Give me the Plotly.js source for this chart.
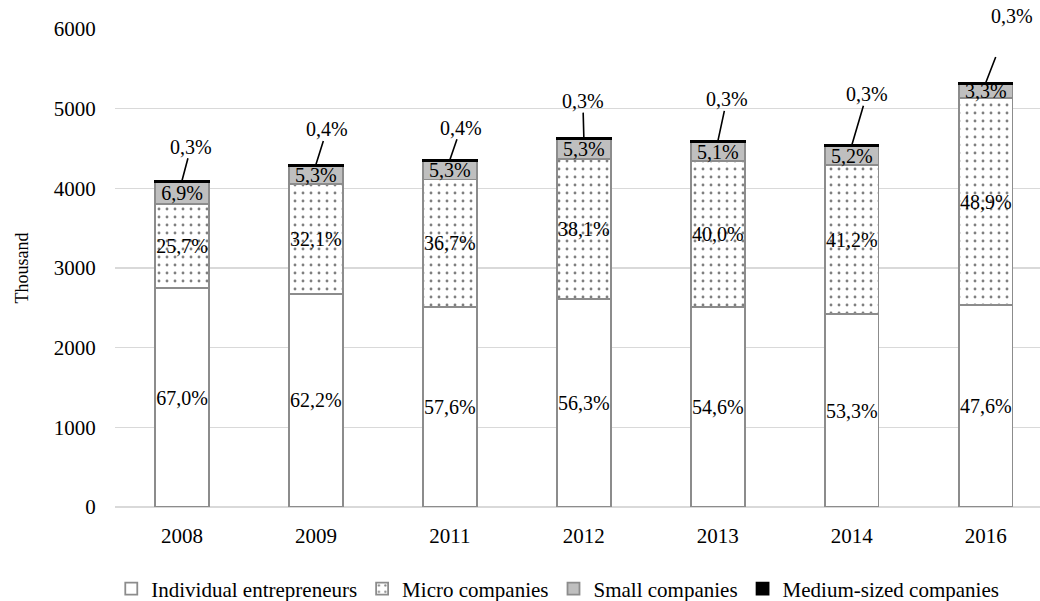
<!DOCTYPE html>
<html>
<head>
<meta charset="utf-8">
<script src="https://cdn.plot.ly/plotly-3.0.1.min.js"></script>
<style>
  html, body { margin: 0; padding: 0; background: #ffffff; }
  #chart { width: 1040px; height: 601px; }
</style>
</head>
<body>
<div id="chart"></div>
<script>
// Enterprises by size class, thousand units, with each class's share of the total
const years = ['2008', '2009', '2011', '2012', '2013', '2014', '2016'];
const totals = [4100, 4300, 4360, 4630, 4590, 4540, 5320];
const pctIndividual = [67.0, 62.2, 57.6, 56.3, 54.6, 53.3, 47.6];
const pctMicro = [25.7, 32.1, 36.7, 38.1, 40.0, 41.2, 48.9];
const pctSmall = [6.9, 5.3, 5.3, 5.3, 5.1, 5.2, 3.3];
const pctMedium = [0.3, 0.4, 0.4, 0.3, 0.3, 0.3, 0.3];
const seriesNames = ['Individual entrepreneurs', 'Micro companies', 'Small companies', 'Medium-sized companies'];
const yTicks = [0, 1000, 2000, 3000, 4000, 5000, 6000];

// Label centre for the medium-sized share, in pixels from the bar top,
// and how far the leader line stops short of its label
const labelShift = [[9, -34], [11, -35], [11, -32], [-1, -37], [9, -42], [15, -51], [26, -67]];
const leaderGap = [0, 0, 0, 0, 0, 0, 32];

const FONT = 'Liberation Serif';
const OUTLINE = '#8c8c8c';

const fmt = p => p.toFixed(1).replace('.', ',') + '%';
const seg = pcts => pcts.map((p, i) => totals[i] * p / 100);

const vInd = seg(pctIndividual);
const vMicro = seg(pctMicro);
const vSmall = seg(pctSmall);
const vMed = seg(pctMedium);

const labelFont = () => ({ family: FONT, size: 20, color: '#000000' });
const axisFont = () => ({ family: FONT, size: 21, color: '#000000' });

function barTrace(name, values, pcts, marker, showText) {
  const t = {
    type: 'bar',
    name: name,
    x: years,
    y: values,
    marker: marker,
    hoverinfo: 'x+y+name'
  };
  if (showText) {
    t.text = pcts.map(fmt);
    t.textposition = 'inside';
    t.insidetextanchor = 'middle';
    t.textangle = 0;
    t.constraintext = 'none';
    t.insidetextfont = labelFont();
  } else {
    t.textposition = 'none';
  }
  return t;
}

const traces = [
  barTrace(seriesNames[0], vInd, pctIndividual,
    { color: '#ffffff', line: { color: OUTLINE, width: 1.8 } }, true),
  barTrace(seriesNames[1], vMicro, pctMicro,
    { color: '#ffffff', line: { color: OUTLINE, width: 1.8 },
      pattern: { shape: '.', fgcolor: '#000000', bgcolor: '#ffffff', size: 8, solidity: 0.1, fillmode: 'overlay' } }, true),
  barTrace(seriesNames[2], vSmall, pctSmall,
    { color: '#bfbfbf', line: { color: OUTLINE, width: 1.8 } }, true),
  barTrace(seriesNames[3], vMed, pctMedium,
    { color: '#000000', line: { color: '#000000', width: 1.8 } }, false)
];

// Medium-sized share: label above each bar joined to it by a short leader line
const annotations = years.map((yr, i) => ({
  x: i,
  y: vInd[i] + vMicro[i] + vSmall[i] + vMed[i],
  xref: 'x', yref: 'y',
  text: fmt(pctMedium[i]),
  font: labelFont(),
  showarrow: true,
  arrowhead: 0,
  arrowwidth: 1.6,
  arrowcolor: '#000000',
  standoff: 0,
  startstandoff: leaderGap[i],
  ax: labelShift[i][0],
  ay: labelShift[i][1],
  borderpad: 0
}));

const layout = {
  width: 1040,
  height: 601,
  margin: { l: 115, r: 0, t: 29, b: 94 },
  paper_bgcolor: '#ffffff',
  plot_bgcolor: '#ffffff',
  font: { family: FONT, size: 21, color: '#000000' },
  barmode: 'stack',
  bargap: 0.6,
  showlegend: true,
  legend: {
    orientation: 'h',
    xref: 'container', yref: 'container',
    x: 0.107, xanchor: 'left',
    y: 0.02, yanchor: 'middle',
    traceorder: 'normal',
    font: axisFont(),
    itemwidth: 30
  },
  xaxis: {
    type: 'category',
    range: [-0.5, 6.405],
    showgrid: false,
    showline: false,
    zeroline: false,
    ticks: 'outside', ticklen: 10, tickcolor: 'rgba(0,0,0,0)',
    tickfont: axisFont(),
    fixedrange: true
  },
  yaxis: {
    range: [0, 6000],
    tickvals: yTicks,
    ticktext: yTicks.map(String),
    showgrid: true,
    gridcolor: '#d9d9d9',
    gridwidth: 1.5,
    zeroline: true,
    zerolinecolor: '#d9d9d9',
    zerolinewidth: 1.5,
    showline: false,
    ticks: 'outside', ticklen: 14, tickcolor: 'rgba(0,0,0,0)',
    tickfont: axisFont(),
    title: { text: 'Thousand', font: { family: FONT, size: 18, color: '#000000' }, standoff: 20 },
    fixedrange: true
  },
  annotations: annotations
};

Plotly.newPlot('chart', traces, layout, { displayModeBar: false, staticPlot: true });
</script>
</body>
</html>
